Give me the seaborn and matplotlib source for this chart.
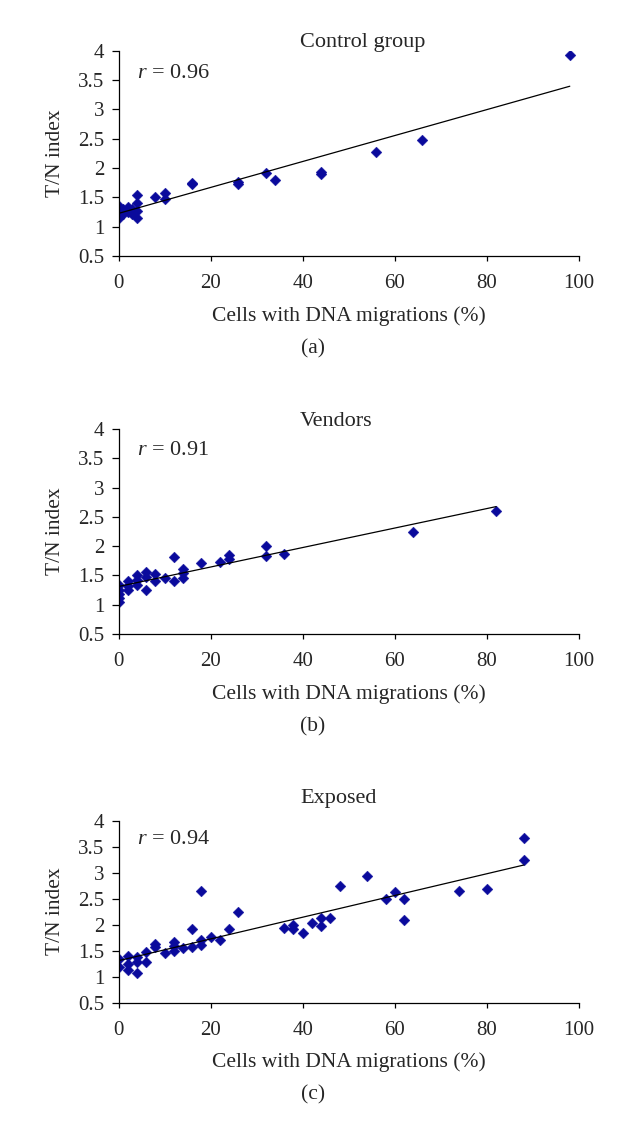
import numpy as np
import pandas as pd
import matplotlib
matplotlib.use("Agg")
import matplotlib.pyplot as plt
import seaborn as sns
from matplotlib.ticker import FuncFormatter, MultipleLocator

# ---------------- data ----------------
control_x = [0, 0, 0, 0, 0, 1, 1, 2, 2, 3, 3, 4, 4, 4, 4, 8, 10, 10, 16, 16,
             26, 26, 32, 34, 44, 44, 56, 66, 98]
control_y = [1.14, 1.20, 1.25, 1.30, 1.35, 1.22, 1.30, 1.25, 1.34, 1.22, 1.30,
             1.14, 1.27, 1.41, 1.54, 1.50, 1.47, 1.58, 1.72, 1.74,
             1.72, 1.76, 1.91, 1.79, 1.90, 1.93, 2.27, 2.48, 3.93]

vendors_x = [0, 0, 0, 0, 0, 2, 2, 2, 4, 4, 4, 6, 6, 6, 8, 8, 10, 12, 12,
             14, 14, 14, 18, 22, 24, 24, 32, 32, 36, 64, 82]
vendors_y = [1.34, 1.25, 1.19, 1.12, 1.04, 1.41, 1.32, 1.25, 1.51, 1.42, 1.34,
             1.55, 1.48, 1.25, 1.53, 1.41, 1.45, 1.81, 1.41,
             1.61, 1.54, 1.45, 1.72, 1.73, 1.85, 1.78, 2.01, 1.84, 1.87, 2.24, 2.60]

exposed_x = [0, 0, 2, 2, 2, 4, 4, 4, 6, 6, 8, 8, 10, 12, 12, 12, 14, 16, 16,
             18, 18, 18, 20, 22, 24, 26, 36, 38, 38, 40, 42, 44, 44, 46, 48,
             54, 58, 60, 62, 62, 74, 80, 88, 88]
exposed_y = [1.34, 1.19, 1.40, 1.25, 1.13, 1.37, 1.28, 1.07, 1.48, 1.28, 1.62, 1.57,
             1.45, 1.66, 1.58, 1.50, 1.54, 1.92, 1.57,
             2.65, 1.71, 1.60, 1.77, 1.71, 1.92, 2.24, 1.93, 2.00, 1.92, 1.83, 2.03,
             2.12, 1.97, 2.13, 2.75, 2.93, 2.49, 2.63, 2.49, 2.08, 2.64, 2.68, 3.66, 3.25]

titles = ["Control group", "Vendors", "Exposed"]
r_labels = ["0.96", "0.91", "0.94"]
panel_letters = ["(a)", "(b)", "(c)"]
x_ticks = [0, 20, 40, 60, 80, 100]
y_ticks = [0.5, 1, 1.5, 2, 2.5, 3, 3.5, 4]
xlabel = "Cells with DNA migrations (%)"
ylabel = "T/N index"

# ---------------- style ----------------
sns.set_style("ticks")
plt.rcParams['font.family'] = ['Liberation Serif', 'DejaVu Serif']
plt.rcParams['mathtext.fontset'] = 'custom'
plt.rcParams['mathtext.rm'] = 'Liberation Serif'
plt.rcParams['mathtext.it'] = 'Liberation Serif:italic'
plt.rcParams['axes.edgecolor'] = 'black'
plt.rcParams['axes.linewidth'] = 0.9

W, H = 626, 1137
fig = plt.figure(figsize=(W / 100, H / 100), dpi=100)
fig.patch.set_facecolor('white')

marker_color = '#0a0a9c'
left_px, right_px = 118.5, 579.0
# (top_px, bottom_px) of each axes
boxes = [(50.7, 256.0), (429.0, 634.0), (820.7, 1002.5)]
title_base = [46.5, 426.0, 802.5]
r_base = [78.5, 455.0, 844.0]

datasets = [(control_x, control_y), (vendors_x, vendors_y), (exposed_x, exposed_y)]

for i, ((xs, ys), (top, bot)) in enumerate(zip(datasets, boxes)):
    ax = fig.add_axes([left_px / W, 1 - bot / H, (right_px - left_px) / W, (bot - top) / H])
    df = pd.DataFrame({"x": xs, "y": ys})
    sns.scatterplot(data=df, x="x", y="y", ax=ax, marker='D', s=30,
                    color=marker_color, edgecolor=marker_color, linewidth=0.3, zorder=2)
    sns.regplot(data=df, x="x", y="y", ax=ax, scatter=False, ci=None, truncate=True,
                line_kws={'color': 'black', 'lw': 0.9, 'zorder': 3})
    ax.set_xlim(0, 100)
    ax.set_ylim(0.5, 4)
    ax.set_xticks(x_ticks)
    ax.set_yticks(y_ticks)
    ax.yaxis.set_major_formatter(FuncFormatter(lambda v, p: f"{v:g}"))
    ax.tick_params(axis='x', direction='out', length=3.8, width=0.9, pad=9.5,
                   labelsize=15, color='black')
    ax.tick_params(axis='y', direction='out', length=4.8, width=0.9, pad=5.5,
                   labelsize=15, color='black')
    sns.despine(ax=ax)
    ax.set_facecolor('white')
    ax.grid(False)
    hpx = bot - top
    ax.set_xlabel(xlabel, fontsize=15.5)
    ax.xaxis.set_label_coords(0.5, -50.0 / hpx)
    ax.set_ylabel(ylabel, fontsize=15.5)
    ax.yaxis.set_label_coords(-0.117, 0.5)

    fig.text(300 / W, 1 - title_base[i] / H, titles[i], ha='left', va='baseline', fontsize=16)
    fig.text(136.7 / W, 1 - r_base[i] / H, "$r$ = " + r_labels[i], ha='left',
             va='baseline', fontsize=16)
    fig.text(0.5, 1 - (bot + 92.5) / H, panel_letters[i], ha='center', va='center', fontsize=15.5)

fig.savefig("out.png", dpi=100, facecolor='white')
